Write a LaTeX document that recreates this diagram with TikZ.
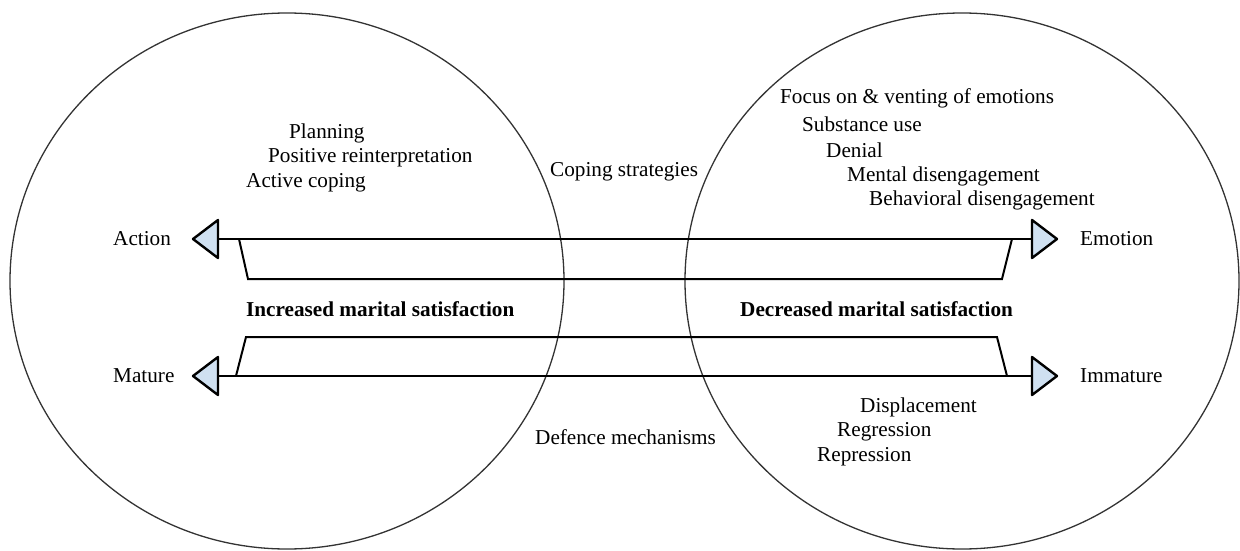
\documentclass[tikz,border=0pt]{standalone}
\usepackage{fontspec}
\setmainfont{Liberation Serif}
\definecolor{headfill}{HTML}{CFE0F1}
\definecolor{ringcol}{HTML}{333333}
\begin{document}
\begin{tikzpicture}[x=1pt,y=-1pt,
  ring/.style={draw=ringcol,line width=1.3pt},
  axis/.style={draw=black,line width=2pt},
  bracket/.style={draw=black,line width=2pt,line join=miter},
  head/.style={draw=black,fill=headfill,line width=2.4pt,line join=round},
  lbl/.style={inner sep=0pt,anchor=west,font=\fontsize{21.2}{25}\selectfont},
  blbl/.style={inner sep=0pt,anchor=west,font=\fontsize{21.2}{25}\selectfont\bfseries}]
\useasboundingbox (0,0) rectangle (1240,551);
% circles
\draw[ring] (287,281) ellipse [x radius=277, y radius=268];
\draw[ring] (962,281) ellipse [x radius=277, y radius=268];
% coordinates
\coordinate (tl) at (218,239);
\coordinate (tr) at (1032,239);
\coordinate (bl) at (218,376);
\coordinate (br) at (1032,376);
% axis lines
\draw[axis] (tl) -- (tr);
\draw[axis] (bl) -- (br);
% brackets
\draw[bracket] (239,239) -- (248,279) -- (1002,279) -- (1012,239);
\draw[bracket] (236,376) -- (246,337) -- (997,337) -- (1007,376);
% arrowheads
\draw[head] (tl) ++(0,-19) -- ++(0,38) -- (193,239) -- cycle;
\draw[head] (bl) ++(0,-19) -- ++(0,38) -- (193,376) -- cycle;
\draw[head] (tr) ++(0,-19) -- ++(0,38) -- (1057,239) -- cycle;
\draw[head] (br) ++(0,-19) -- ++(0,38) -- (1057,376) -- cycle;
% labels
\node[lbl] (action) at (113,239) {Action};
\node[lbl] (emotion) at (1080,239) {Emotion};
\node[lbl] (mature) at (113,376) {Mature};
\node[lbl] (immature) at (1080,376) {Immature};
\node[blbl] (inc) at (246,309) {Increased marital satisfaction};
\node[blbl] (dec) at (740,309) {Decreased marital satisfaction};
\node[lbl] (cs) at (550,172) {Coping strategies};
\node[lbl] (dm) at (535,437) {Defence mechanisms};
\node[lbl] (p1) at (289,133) {Planning};
\node[lbl] (p2) at (268,158) {Positive reinterpretation};
\node[lbl] (p3) at (246,183) {Active coping};
\node[lbl] (e1) at (780,98) {Focus on \& venting of emotions};
\node[lbl] (e2) at (802,124) {Substance use};
\node[lbl] (e3) at (826,150) {Denial};
\node[lbl] (e4) at (847,176) {Mental disengagement};
\node[lbl] (e5) at (869,200) {Behavioral disengagement};
\node[lbl] (d1) at (860,407) {Displacement};
\node[lbl] (d2) at (837,432) {Regression};
\node[lbl] (d3) at (817,457) {Repression};
\end{tikzpicture}
\end{document}
